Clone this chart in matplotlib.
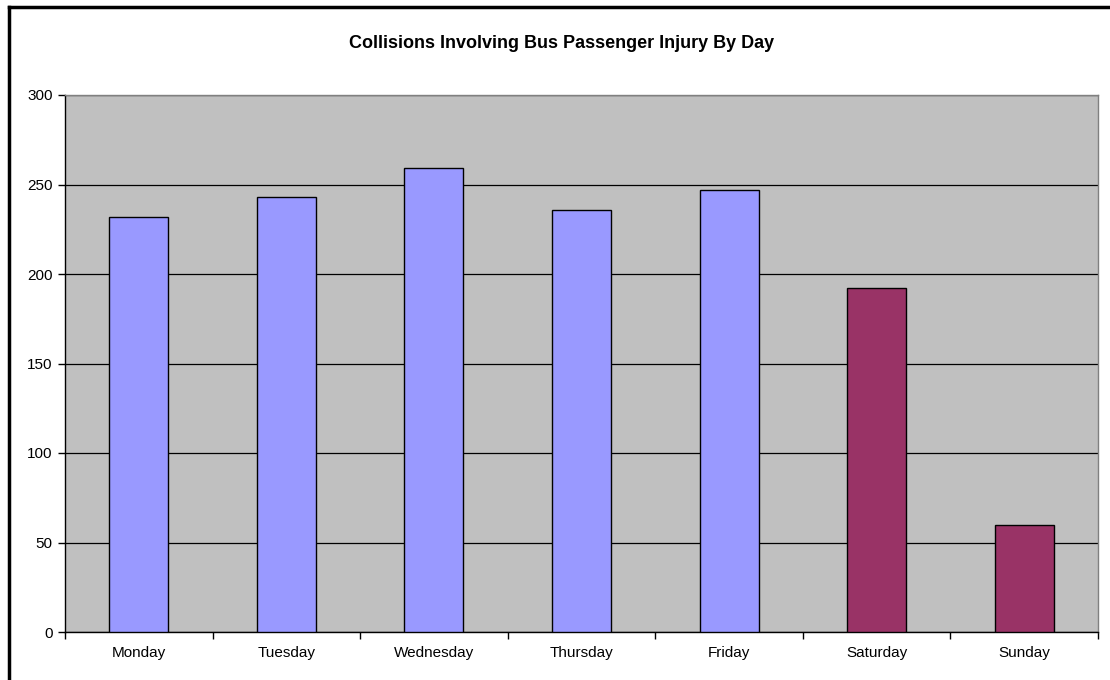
import matplotlib
matplotlib.use("Agg")
import matplotlib.pyplot as plt
from matplotlib.lines import Line2D

days = ["Monday", "Tuesday", "Wednesday", "Thursday", "Friday", "Saturday", "Sunday"]
collisions = [232, 243, 259, 236, 247, 192, 60]
weekday_color = "#9999FF"
weekend_color = "#993366"
bar_colors = [weekday_color] * 5 + [weekend_color] * 2
y_ticks = [0, 50, 100, 150, 200, 250, 300]

plt.rcParams["font.family"] = ["Liberation Sans", "DejaVu Sans"]

W, H = 1110, 680
fig = plt.figure(figsize=(W / 100, H / 100), dpi=100)
ax = fig.add_axes([65 / W, (H - 632) / H, 1033 / W, 537 / H])

ax.set_facecolor("#C0C0C0")
x = list(range(len(days)))
ax.bar(x, collisions, width=0.40, color=bar_colors, edgecolor="black",
       linewidth=1.0, zorder=3)

ax.set_xlim(-0.5, len(days) - 0.5)
ax.set_ylim(0, 300)
ax.set_yticks(y_ticks)
ax.set_yticklabels([str(t) for t in y_ticks])
ax.yaxis.grid(True, color="black", linewidth=0.9, zorder=1)
ax.set_axisbelow(True)

ax.set_xticks(x)
ax.set_xticklabels(days)
ax.tick_params(axis="x", length=0, labelsize=11, pad=10)
ax.tick_params(axis="y", length=5, width=1, labelsize=11, pad=4)
# category separators below the baseline
ax.set_xticks([i - 0.5 for i in range(len(days) + 1)], minor=True)
ax.tick_params(axis="x", which="minor", length=5, width=1, color="black")

for side in ("left", "bottom"):
    ax.spines[side].set_color("black")
    ax.spines[side].set_linewidth(1)
for side in ("top", "right"):
    ax.spines[side].set_color("#808080")
    ax.spines[side].set_linewidth(1)

fig.text(562 / W, 1 - 43 / H, "Collisions Involving Bus Passenger Injury By Day",
         ha="center", va="center", fontsize=13, fontweight="bold")

# chart frame edges
fig.add_artist(Line2D([9 / W, 9 / W], [0, 1 - 7 / H], transform=fig.transFigure,
                      color="black", linewidth=2.5))
fig.add_artist(Line2D([9 / W, 1], [1 - 7 / H, 1 - 7 / H], transform=fig.transFigure,
                      color="black", linewidth=2.5))

fig.savefig("out.png", dpi=100, facecolor="white")
